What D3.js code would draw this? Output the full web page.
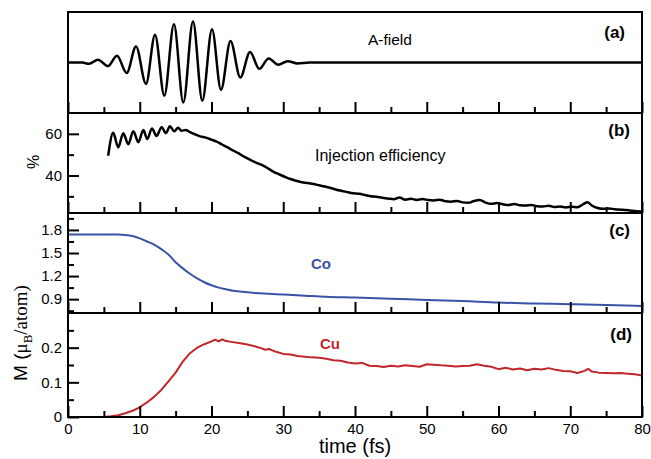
<!DOCTYPE html>
<html><head><meta charset="utf-8">
<script src="https://cdnjs.cloudflare.com/ajax/libs/d3/7.8.5/d3.min.js"></script>
<style>
body{margin:0;background:#fff;}
svg{display:block;font-family:"Liberation Sans",Arial,Helvetica,sans-serif;}
</style></head><body>
<svg id="chart" width="651" height="459"></svg>
<script>
// ---- data ----
const xTicksMajor = [0,10,20,30,40,50,60,70,80];
const xTicksMinor = [5,15,25,35,45,55,65,75];

// (a) A-field: extrema (time fs, relative amplitude)
const aT = [0,2,2.93,4.18,5.57,6.83,8.18,9.48,10.87,12.13,13.42,14.77,16.07,17.42,18.72,20.07,21.32,22.65,24.01,25.37,26.66,27.97,29.31,30.63,31.96,33.7,40,50,60,70,80];
const aV = [0,0,-0.03,0.06,-0.08,0.15,-0.23,0.35,-0.47,0.61,-0.73,0.84,-0.88,0.9,-0.84,0.73,-0.6,0.47,-0.33,0.23,-0.14,0.09,-0.05,0.03,-0.02,0,0,0,0,0,0];

// (b) Injection efficiency (%)
const effT = [5.6,6.3,7.0,7.7,8.4,9.1,9.8,10.5,11.05,11.7,12.35,13.05,13.65,14.2,14.8,15.35,15.8,16.4,17.0,17.9,18.4,19.2,20.0,20.7,21.4,22.2,23.0,23.8,24.6,25.4,26.2,27.0,27.8,28.6,29.4,30.2,31.0,31.8,32.6,33.4,34.2,35.0,35.8,36.6,37.4,38.2,39.0,39.8,40.6,41.4,42.2,43.0,43.8,44.6,45.4,46.2,47.0,47.8,48.6,49.4,50.2,51.0,51.8,52.6,53.4,54.2,55.0,55.8,56.6,57.4,58.2,59.0,59.8,60.6,61.4,62.2,63.0,63.8,64.6,65.4,66.2,67.0,67.8,68.6,69.4,70.2,71.0,71.8,72.4,73.0,73.8,74.6,75.4,76.2,77.0,77.8,78.6,79.4,80.0];
const effV = [49.5,60.5,53.5,60.3,55.0,61.3,56.0,61.8,57.5,62.6,59.0,63.2,60.3,63.7,61.2,62.9,61.5,61.8,60.8,59.5,58.8,58.2,57.2,56.3,55.0,53.6,52.0,50.6,48.9,47.5,46.2,45.1,43.6,41.9,40.6,39.4,38.3,37.5,36.8,36.4,35.9,35.3,34.7,34.0,33.2,32.6,32.0,31.5,31.2,30.6,30.0,29.8,29.3,29.0,28.6,29.4,28.4,28.8,28.3,28.7,28.2,28.0,28.4,27.6,27.4,27.8,27.1,26.9,27.8,28.2,27.0,26.4,26.8,26.2,25.8,26.3,25.7,25.6,25.9,25.2,25.1,25.5,24.9,25.1,24.7,25.0,24.8,26.2,27.2,25.6,24.4,24.0,24.2,23.8,23.6,23.4,23.1,22.8,22.6];

// (c) Co moment (muB/atom)
const coT = [0,4,7,8,9,10,11,12,13,14,15,16,17,18,19,20,21,22,23,24,26,28,30,33,36,40,45,50,55,60,65,70,75,80];
const coV = [1.742,1.742,1.74,1.735,1.72,1.69,1.65,1.61,1.55,1.48,1.38,1.30,1.23,1.17,1.12,1.08,1.05,1.03,1.01,1.0,0.98,0.97,0.96,0.945,0.93,0.92,0.905,0.89,0.875,0.855,0.845,0.835,0.825,0.81];

// (d) Cu moment (muB/atom)
const cuT = [0,5,6,7,8,9,10,11,12,13,14,15,16,17,18,19,20,20.5,21,21.5,22,23,24,25,26,27,27.5,28,29,30,31,32,33,34,35,36,37,38,39,40,41,42,43,44,45,46,47,48,49,50,51,52,53,54,55,56,57,58,59,60,61,62,63,64,65,66,67,68,69,70,71,72,72.5,73,74,75,76,77,78,79,80];
const cuV = [0,0,0.002,0.005,0.011,0.018,0.028,0.042,0.058,0.078,0.103,0.128,0.16,0.184,0.2,0.21,0.218,0.223,0.218,0.224,0.219,0.216,0.213,0.209,0.204,0.198,0.194,0.196,0.188,0.182,0.18,0.176,0.174,0.172,0.171,0.168,0.164,0.162,0.157,0.154,0.156,0.148,0.147,0.144,0.148,0.146,0.149,0.147,0.145,0.152,0.151,0.149,0.148,0.146,0.147,0.148,0.152,0.148,0.145,0.138,0.142,0.137,0.14,0.135,0.139,0.137,0.141,0.136,0.133,0.132,0.127,0.133,0.139,0.131,0.128,0.127,0.126,0.127,0.125,0.123,0.12];

const bTicksMajor = [40,60], bTicksMinor = [30,50];
const cTicksMajor = [0.9,1.2,1.5,1.8], cTicksMinor = [0.75,1.05,1.35,1.65,1.95];
const dTicksMajor = [0,0.1,0.2], dTicksMinor = [0.05,0.15,0.25];

// ---- layout ----
const svg = d3.select("#chart");
const L = 68, R = 642;
const x = d3.scaleLinear().domain([0,80]).range([L,R]);

const panels = [
  {key:"a", top:12, bot:113, dom:[-1.11,1.11], T:aT, V:aV, color:"#000", w:2.5, curve:d3.curveMonotoneX, maj:[], min:[]},
  {key:"b", top:113, bot:213, dom:[22,70], T:effT, V:effV, color:"#000", w:2.5, curve:d3.curveMonotoneX, maj:bTicksMajor, min:bTicksMinor},
  {key:"c", top:213, bot:313, dom:[0.72,2.02], T:coT, V:coV, color:"#3953a6", w:2, curve:d3.curveMonotoneX, maj:cTicksMajor, min:cTicksMinor},
  {key:"d", top:313, bot:417, dom:[0,0.3], T:cuT, V:cuV, color:"#c0262b", w:2, curve:d3.curveLinear, maj:dTicksMajor, min:dTicksMinor}
];

panels.forEach((p,i)=>{
  const y = d3.scaleLinear().domain(p.dom).range([p.bot,p.top]);
  const g = svg.append("g");
  const pts = p.T.map((t,k)=>[t,p.V[k]]);
  g.append("path").datum(pts)
    .attr("fill","none").attr("stroke",p.color).attr("stroke-width",p.w)
    .attr("stroke-linejoin","round")
    .attr("d", d3.line().x(d=>x(d[0])).y(d=>y(d[1])).curve(p.curve));
  const isLast = i===panels.length-1;
  const ax = g.append("g").attr("transform",`translate(0,${p.bot})`)
    .call(d3.axisBottom(x).tickValues(xTicksMajor).tickSizeInner(-11).tickSizeOuter(0).tickPadding(6)
      .tickFormat(isLast? d3.format("d") : ()=>""));
  ax.select(".domain").remove();
  ax.selectAll("line").attr("stroke-width",2);
  ax.selectAll("text").attr("font-size",15).attr("fill","#000");
  const axm = g.append("g").attr("transform",`translate(0,${p.bot})`)
    .call(d3.axisBottom(x).tickValues(xTicksMinor).tickSizeInner(-6).tickSizeOuter(0).tickFormat(()=>""));
  axm.select(".domain").remove();
  axm.selectAll("line").attr("stroke-width",2);
  if (p.maj.length){
    const fmt = p.key==="b" ? d3.format("d") : (p.key==="c" ? d3.format(".1f") : (v=> v===0 ? "0" : d3.format(".1f")(v)));
    const ay = g.append("g").attr("transform",`translate(${L},0)`)
      .call(d3.axisLeft(y).tickValues(p.maj).tickSizeInner(-11).tickSizeOuter(0).tickPadding(6).tickFormat(fmt));
    ay.select(".domain").remove();
    ay.selectAll("line").attr("stroke-width",2);
    ay.selectAll("text").attr("font-size",15).attr("fill","#000");
    const aym = g.append("g").attr("transform",`translate(${L},0)`)
      .call(d3.axisLeft(y).tickValues(p.min).tickSizeInner(-6).tickSizeOuter(0).tickFormat(()=>""));
    aym.select(".domain").remove();
    aym.selectAll("line").attr("stroke-width",2);
  }
  g.append("rect").attr("x",L).attr("y",p.top).attr("width",R-L).attr("height",p.bot-p.top)
    .attr("fill","none").attr("stroke","#000").attr("stroke-width",2);
});

const letters = [["(a)",625,38],["(b)",630,136],["(c)",630,236],["(d)",632,340]];
letters.forEach(([t,xx,yy])=>svg.append("text").attr("x",xx).attr("y",yy).attr("text-anchor","end")
  .attr("font-size",17).attr("font-weight","bold").text(t));

svg.append("text").attr("x",368).attr("y",45).attr("font-size",15.5).text("A-field");
svg.append("text").attr("x",315).attr("y",161).attr("font-size",16).text("Injection efficiency");
svg.append("text").attr("x",311).attr("y",269).attr("font-size",15).attr("font-weight","bold").attr("fill","#3953a6").text("Co");
svg.append("text").attr("x",320).attr("y",349).attr("font-size",15).attr("font-weight","bold").attr("fill","#c0262b").text("Cu");

svg.append("text").attr("x",x(40)).attr("y",453).attr("text-anchor","middle").attr("font-size",20).text("time (fs)");
svg.append("text").attr("transform","translate(39,162) rotate(-90)").attr("text-anchor","middle").attr("font-size",16).text("%");
const yl = svg.append("text").attr("transform","translate(27,333) rotate(-90)").attr("text-anchor","middle").attr("font-size",19);
yl.append("tspan").text("M (");
yl.append("tspan").attr("font-family","'Liberation Serif','Times New Roman',serif").text("μ");
yl.append("tspan").attr("font-family","'Liberation Serif','Times New Roman',serif").attr("font-size",13).attr("dy",5).text("B");
yl.append("tspan").attr("font-family","'Liberation Serif','Times New Roman',serif").attr("dy",-5).text("/atom)");
</script>
</body></html>
